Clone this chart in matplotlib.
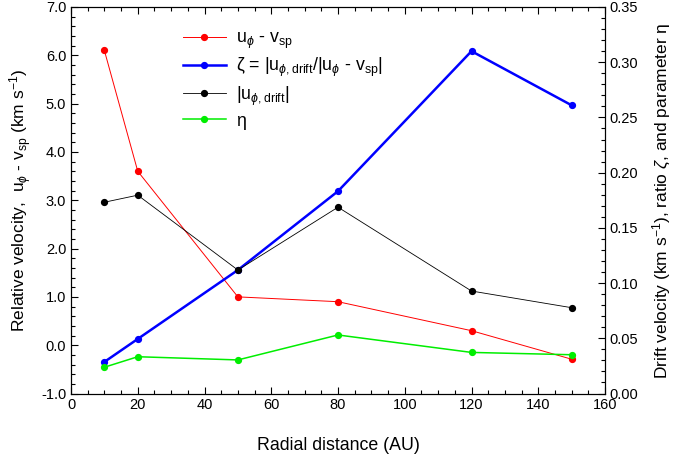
import matplotlib
matplotlib.use("Agg")
import matplotlib.pyplot as plt
from matplotlib.ticker import MultipleLocator, FormatStrFormatter

plt.rcParams['font.family'] = ['Liberation Sans', 'DejaVu Sans']
plt.rcParams['mathtext.fontset'] = 'custom'
plt.rcParams['mathtext.rm'] = 'Liberation Sans'
plt.rcParams['mathtext.it'] = 'Liberation Sans:italic'
plt.rcParams['mathtext.sf'] = 'Liberation Sans'

radius = [10, 20, 50, 80, 120, 150]
rel_velocity = [6.10, 3.60, 1.00, 0.90, 0.30, -0.29]
zeta = [0.0286, 0.0494, 0.1118, 0.1832, 0.310, 0.261]
drift = [0.1732, 0.1796, 0.1118, 0.1687, 0.0928, 0.0777]
eta = [0.0238, 0.0333, 0.0304, 0.053, 0.0372, 0.0351]

fig = plt.figure(figsize=(6.76, 4.57), dpi=100)
ax = fig.add_axes([71/676, 1-393.5/457, 534/676, 386.5/457])
ax2 = ax.twinx()

l1, = ax.plot(radius, rel_velocity, '-o', color='#ff0000', lw=0.7, ms=4.2,
              label=r'u$_{\phi}$ - v$_{\mathrm{sp}}$')
l2, = ax2.plot(radius, zeta, '-o', color='#0000ff', lw=1.8, ms=4.2,
               label=r'$\mathrm{\zeta}$ = |u$_{\phi,\mathrm{drift}}$/|u$_{\phi}$ - v$_{\mathrm{sp}}$|')
l3, = ax2.plot(radius, drift, '-o', color='#000000', lw=0.6, ms=4.2,
               label=r'|u$_{\phi,\mathrm{drift}}$|')
l4, = ax2.plot(radius, eta, '-o', color='#00ee00', lw=1.1, ms=4.2,
               label=r'$\mathrm{\eta}$')

ax.set_xlim(0, 160)
ax.set_ylim(-1.0, 7.0)
ax2.set_ylim(0.0, 0.35)

ax.xaxis.set_major_locator(MultipleLocator(20))
ax.xaxis.set_minor_locator(MultipleLocator(5))
ax.yaxis.set_major_locator(MultipleLocator(1.0))
ax.yaxis.set_minor_locator(MultipleLocator(0.2))
ax.yaxis.set_major_formatter(FormatStrFormatter('%.1f'))
ax2.yaxis.set_major_locator(MultipleLocator(0.05))
ax2.yaxis.set_minor_locator(MultipleLocator(0.01))
ax2.yaxis.set_major_formatter(FormatStrFormatter('%.2f'))

ax.tick_params(which='both', direction='in', top=True, right=False, labelsize=10.5)
ax.tick_params(which='major', length=5, width=0.8)
ax.tick_params(which='minor', length=3, width=0.8)
ax2.tick_params(which='both', direction='in', labelsize=10.5)
ax2.tick_params(which='major', length=5, width=0.8)
ax2.tick_params(which='minor', length=3, width=0.8)

ax.set_xlabel('Radial distance (AU)', fontsize=12.8, labelpad=18)
ax.set_ylabel(r'Relative velocity,  u$_{\phi}$ - v$_{\mathrm{sp}}$ (km s$^{-1}$)', fontsize=12.5, labelpad=5)
ax2.set_ylabel(r'Drift velocity (km s$^{-1}$), ratio $\zeta$, and parameter $\mathrm{\eta}$', fontsize=12.5, labelpad=9)

ax.legend(handles=[l1, l2, l3, l4], loc='upper left', bbox_to_anchor=(0.21, 0.94),
          frameon=False, fontsize=12.8, handlelength=2.4, handletextpad=0.6,
          borderpad=0, borderaxespad=0, labelspacing=0.28)

fig.savefig('out.png', dpi=100)
